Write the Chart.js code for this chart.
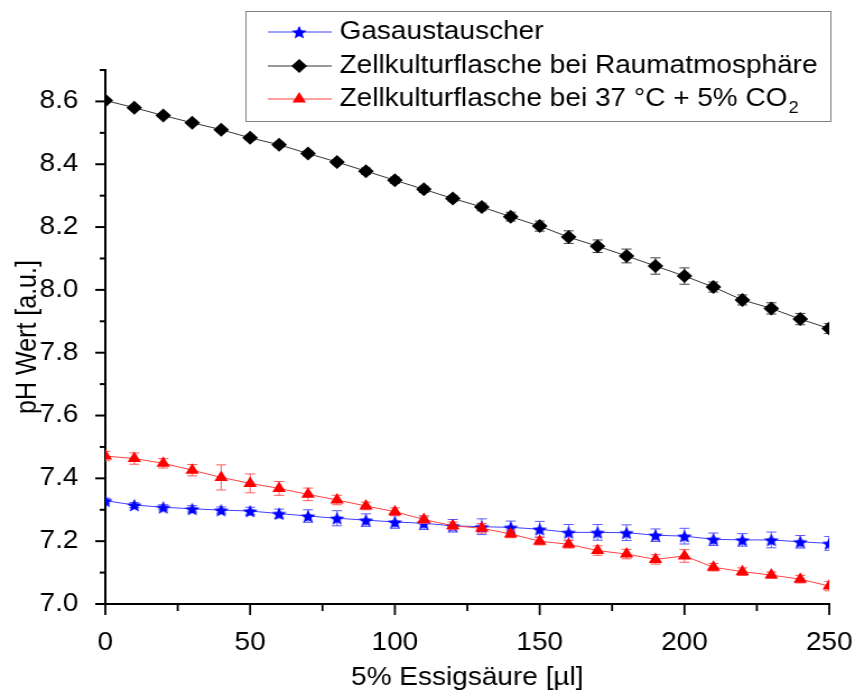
<!DOCTYPE html>
<html lang="de">
<head>
<meta charset="UTF-8">
<title>pH Wert vs. Essigsäure</title>
<script src="https://cdn.jsdelivr.net/npm/chart.js"></script>
<style>
    body { margin: 0; background: #fff; }
</style>
</head>
<body>
<!-- the original figure is a bit wider than tall, so the canvas is stretched horizontally -->
<canvas id="ph-chart" width="763" height="696" style="display:block;width:855px;height:696px"></canvas>

<script>
// x values: added 5% acetic acid in µl
const acidVolume = [0, 10, 20, 30, 40, 50, 60, 70, 80, 90, 100, 110, 120,
                    130, 140, 150, 160, 170, 180, 190, 200, 210, 220, 230, 240, 250];

// pH values
const gasExchanger = [7.329, 7.315, 7.308, 7.303, 7.299, 7.296, 7.288, 7.280, 7.273, 7.267, 7.261, 7.257, 7.249,
                      7.246, 7.244, 7.238, 7.228, 7.228, 7.227, 7.219, 7.216, 7.206, 7.204, 7.204, 7.198, 7.193];
const roomAir = [8.603, 8.580, 8.555, 8.532, 8.510, 8.484, 8.462, 8.434, 8.407, 8.378, 8.349, 8.320, 8.291,
                 8.264, 8.233, 8.203, 8.168, 8.139, 8.108, 8.076, 8.044, 8.009, 7.968, 7.941, 7.907, 7.877];
const incubator = [7.471, 7.463, 7.448, 7.426, 7.403, 7.384, 7.368, 7.349, 7.331, 7.312, 7.294, 7.269, 7.249,
                   7.241, 7.223, 7.200, 7.190, 7.170, 7.159, 7.142, 7.153, 7.117, 7.103, 7.092, 7.079, 7.057];

// standard deviations (error bars)
const gasExchangerErr = [0.008, 0.008, 0.008, 0.010, 0.010, 0.012, 0.014, 0.020, 0.024, 0.020, 0.020, 0.020, 0.020,
                         0.025, 0.020, 0.025, 0.025, 0.025, 0.025, 0.020, 0.025, 0.020, 0.020, 0.025, 0.020, 0.022];
const roomAirErr = [0.006, 0.006, 0.006, 0.006, 0.006, 0.008, 0.008, 0.008, 0.008, 0.010, 0.010, 0.010, 0.010,
                    0.012, 0.014, 0.016, 0.020, 0.020, 0.022, 0.026, 0.026, 0.016, 0.016, 0.018, 0.018, 0.016];
const incubatorErr = [0.015, 0.018, 0.015, 0.018, 0.040, 0.030, 0.022, 0.020, 0.015, 0.012, 0.012, 0.012, 0.012,
                      0.015, 0.012, 0.012, 0.012, 0.015, 0.015, 0.015, 0.020, 0.012, 0.012, 0.010, 0.012, 0.015];

const seriesLabels = ['Gasaustauscher', 'Zellkulturflasche bei Raumatmosphäre', 'Zellkulturflasche bei 37 °C + 5% CO₂'];
const xTitle = '5% Essigsäure [µl]';
const yTitle = 'pH Wert [a.u.]';

const errorSets = [gasExchangerErr, roomAirErr, incubatorErr];
const errorColors = ['#5a5aff', '#444444', '#ff5a5a'];
const FONT = { family: '"Liberation Sans", Arial, sans-serif', size: 25 };

// filled five pointed star, Chart.js has no such point style
function makeStar(color, r) {
    const c = document.createElement('canvas');
    const s = Math.ceil(r * 2) + 2;
    c.width = s; c.height = s;
    const g = c.getContext('2d');
    g.fillStyle = color;
    g.beginPath();
    for (let i = 0; i < 10; i++) {
        const rad = i % 2 ? r * 0.45 : r;
        const a = -Math.PI / 2 + i * Math.PI / 5;
        g.lineTo(s / 2 + rad * Math.cos(a), s / 2 + 0.8 + rad * Math.sin(a));
    }
    g.closePath();
    g.fill();
    return c;
}
const starImg = makeStar('#0000ff', 7);

function points(ys) {
    return acidVolume.map((x, i) => ({ x: x, y: ys[i] }));
}

// vertical error bars with caps, drawn under each dataset
const errorBars = {
    id: 'errorBars',
    beforeDatasetDraw(chart, args) {
        const errs = errorSets[args.index];
        if (!errs) return;
        const ctx = chart.ctx, area = chart.chartArea;
        const yScale = chart.scales.y;
        ctx.save();
        ctx.beginPath();
        ctx.rect(area.left, area.top, area.right - area.left, area.bottom - area.top);
        ctx.clip();
        ctx.strokeStyle = errorColors[args.index];
        ctx.lineWidth = 1;
        args.meta.data.forEach((pt, i) => {
            const v = chart.data.datasets[args.index].data[i].y;
            const yTop = yScale.getPixelForValue(v + errs[i]);
            const yBot = yScale.getPixelForValue(v - errs[i]);
            ctx.beginPath();
            ctx.moveTo(pt.x, yTop); ctx.lineTo(pt.x, yBot);
            ctx.moveTo(pt.x - 4.5, yTop); ctx.lineTo(pt.x + 4.5, yTop);
            ctx.moveTo(pt.x - 4.5, yBot); ctx.lineTo(pt.x + 4.5, yBot);
            ctx.stroke();
        });
        ctx.restore();
    }
};

// outward major / minor tick marks
const axisTicks = {
    id: 'axisTicks',
    afterDraw(chart) {
        const ctx = chart.ctx, area = chart.chartArea;
        const xs = chart.scales.x, ys = chart.scales.y;
        ctx.save();
        ctx.strokeStyle = '#000';
        ctx.lineWidth = 2;
        ys.ticks.forEach(t => {
            const major = Math.round(t.value * 10) % 2 === 0;
            const p = ys.getPixelForValue(t.value);
            ctx.beginPath();
            ctx.moveTo(area.left - (major ? 9 : 5), p);
            ctx.lineTo(area.left, p);
            ctx.stroke();
        });
        ctx.lineWidth = 1.8;
        xs.ticks.forEach(t => {
            const major = t.value % 50 === 0;
            const p = xs.getPixelForValue(t.value);
            ctx.beginPath();
            ctx.moveTo(p, area.bottom);
            ctx.lineTo(p, area.bottom + (major ? 11 : 7));
            ctx.stroke();
        });
        ctx.restore();
    }
};

function drawMarker(ctx, ds, x, y) {
    const r = ds.pointRadius;
    ctx.fillStyle = ds.pointBackgroundColor;
    ctx.beginPath();
    if (ds.pointStyle === 'rectRot') {
        ctx.moveTo(x - r, y); ctx.lineTo(x, y - r); ctx.lineTo(x + r, y); ctx.lineTo(x, y + r);
    } else if (ds.pointStyle === 'triangle') {
        ctx.moveTo(x, y - r);
        ctx.lineTo(x + r * Math.sqrt(3) / 2, y + r / 2);
        ctx.lineTo(x - r * Math.sqrt(3) / 2, y + r / 2);
    } else {
        ctx.drawImage(ds.pointStyle, x - ds.pointStyle.width / 2, y - ds.pointStyle.height / 2);
        return;
    }
    ctx.closePath();
    ctx.fill();
}

// framed legend in the upper right corner
const boxLegend = {
    id: 'boxLegend',
    afterDraw(chart) {
        const ctx = chart.ctx;
        const font = FONT.size + 'px ' + FONT.family;
        const rows = [32, 66, 99];
        ctx.save();
        ctx.strokeStyle = '#808080';
        ctx.lineWidth = 1;
        ctx.strokeRect(219.5, 11.5, 522, 110);
        chart.data.datasets.forEach((ds, i) => {
            const y = rows[i];
            ctx.strokeStyle = ds.borderColor;
            ctx.lineWidth = 1;
            ctx.beginPath();
            ctx.moveTo(239, y); ctx.lineTo(296, y);
            ctx.stroke();
            drawMarker(ctx, ds, 267, y);
            ctx.fillStyle = '#000';
            ctx.textBaseline = 'middle';
            ctx.textAlign = 'left';
            ctx.font = font;
            let text = ds.label;
            let sub = '';
            if (text.endsWith('₂')) { sub = '2'; text = text.slice(0, -1); }
            ctx.fillText(text, 303, y);
            if (sub) {
                const w = ctx.measureText(text).width;
                ctx.font = '16px ' + FONT.family;
                ctx.fillText(sub, 303 + w + 1, y + 10);
            }
        });
        ctx.restore();
    }
};

const ctx = document.getElementById('ph-chart').getContext('2d');
const chart = new Chart(ctx, {
    type: 'line',
    data: {
        datasets: [
            {
                label: seriesLabels[0],
                data: points(gasExchanger),
                borderColor: '#3f3fff',
                borderWidth: 1,
                pointStyle: starImg,
                pointRadius: 7,
                pointBackgroundColor: '#0000ff',
                pointBorderWidth: 0,
                clip: 0,
                order: 3
            },
            {
                label: seriesLabels[1],
                data: points(roomAir),
                borderColor: '#333333',
                borderWidth: 1,
                pointStyle: 'rectRot',
                pointRadius: 7,
                pointBackgroundColor: '#000000',
                pointBorderWidth: 0,
                clip: 0,
                order: 2
            },
            {
                label: seriesLabels[2],
                data: points(incubator),
                borderColor: '#ff3f3f',
                borderWidth: 1,
                pointStyle: 'triangle',
                pointRadius: 7,
                pointBackgroundColor: '#ff0000',
                pointBorderWidth: 0,
                clip: 0,
                order: 1
            }
        ]
    },
    options: {
        responsive: false,
        animation: false,
        layout: { padding: { top: 70, right: 23, left: 0, bottom: 0 } },
        plugins: {
            legend: { display: false },
            tooltip: { enabled: false }
        },
        scales: {
            x: {
                type: 'linear',
                min: 0,
                max: 250,
                afterFit: s => { s.height = 92; s.paddingLeft = 0; s.paddingRight = 0; },
                grid: { display: false },
                border: { display: true, color: '#000', width: 2 },
                ticks: {
                    stepSize: 25,
                    autoSkip: false,
                    maxRotation: 0,
                    padding: 16,
                    color: '#000',
                    font: FONT,
                    callback: v => (v % 50 === 0 ? v : '')
                },
                title: { display: true, text: xTitle, color: '#000', font: FONT, padding: { top: 0, bottom: 3 } }
            },
            y: {
                min: 7.0,
                max: 8.7,
                afterFit: s => { s.width = 94; },
                grid: { display: false },
                border: { display: true, color: '#000', width: 2 },
                ticks: {
                    stepSize: 0.1,
                    autoSkip: false,
                    padding: 16,
                    color: '#000',
                    font: FONT,
                    callback: v => (Math.round(v * 10) % 2 === 0 && v < 8.65 ? v.toFixed(1) : '')
                },
                title: { display: true, text: yTitle, color: '#000', font: FONT, padding: { top: 10, bottom: 0 } }
            }
        }
    },
    plugins: [errorBars, axisTicks, boxLegend]
});
</script>
</body>
</html>
